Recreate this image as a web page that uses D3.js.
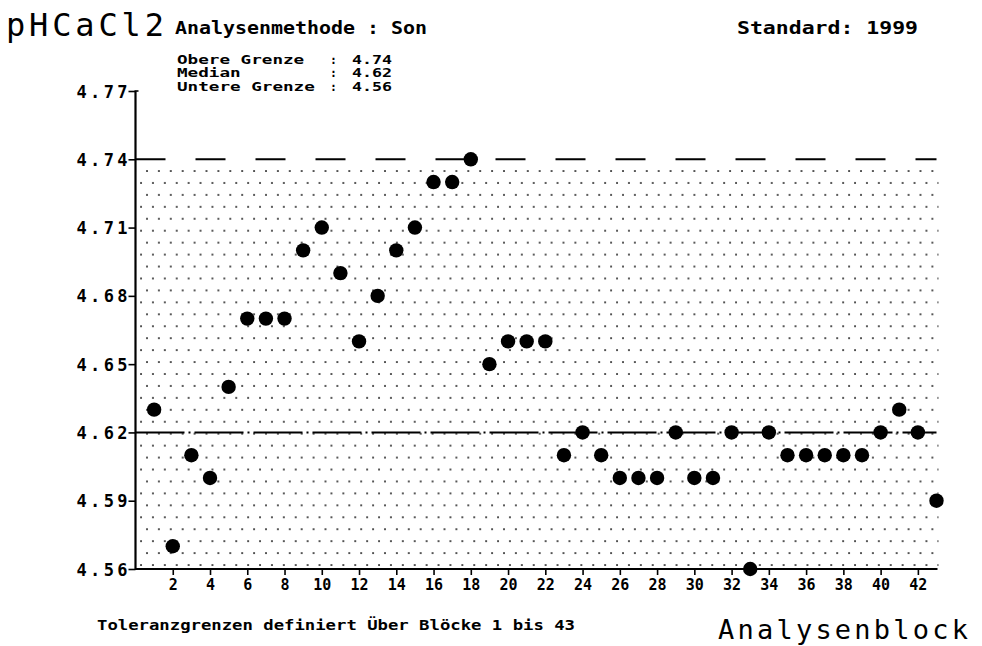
<!DOCTYPE html>
<html><head><meta charset="utf-8">
<script src="https://cdn.jsdelivr.net/npm/d3@7/dist/d3.min.js"></script>
<style>body{margin:0;background:#fff}svg{display:block}</style>
</head><body>
<svg id="c" width="982" height="646"></svg>
<script>
const blocks = d3.range(1, 44);
const values = [4.63,4.57,4.61,4.60,4.64,4.67,4.67,4.67,4.70,4.71,4.69,4.66,4.68,4.70,4.71,4.73,4.73,4.74,4.65,4.66,4.66,4.66,4.61,4.62,4.61,4.60,4.60,4.60,4.62,4.60,4.60,4.62,4.56,4.62,4.61,4.61,4.61,4.61,4.61,4.62,4.63,4.62,4.59];
const yTicks = [4.56,4.59,4.62,4.65,4.68,4.71,4.74,4.77];
const xTicks = d3.range(2, 43, 2);
const upperLimit = 4.74, median = 4.62, lowerLimit = 4.56;
const limitLabels = ["Obere Grenze","Median","Untere Grenze"];
const limitValues = ["4.74","4.62","4.56"];

const svg = d3.select("#c");
const mono = "'DejaVu Sans Mono', monospace";
const x = d3.scaleLinear().domain([0,43]).range([135.5,936.5]);
const y = d3.scaleLinear().domain([4.56,4.77]).range([569,91]);

// dotted tolerance area
const defs = svg.append("defs");
const pat = defs.append("pattern").attr("id","dots").attr("patternUnits","userSpaceOnUse")
  .attr("x",144).attr("y",165.03).attr("width",11.9).attr("height",23.88);
pat.append("rect").attr("x",2.2).attr("y",5.2).attr("width",1.6).attr("height",1.6).attr("fill","#000");
pat.append("rect").attr("x",8.15).attr("y",17.14).attr("width",1.6).attr("height",1.6).attr("fill","#000");
svg.append("rect").attr("x",x(0)+1).attr("y",y(upperLimit)+2)
  .attr("width",x(43)-x(0)+1).attr("height",y(lowerLimit)-y(upperLimit)-3)
  .attr("fill","url(#dots)");

// limit lines
svg.append("line").attr("x1",x(0)).attr("x2",x(43)).attr("y1",y(upperLimit)).attr("y2",y(upperLimit))
  .attr("stroke","#000").attr("stroke-width",2).attr("stroke-dasharray","30,30");
svg.append("line").attr("x1",x(0)).attr("x2",x(43)).attr("y1",y(median)).attr("y2",y(median))
  .attr("stroke","#000").attr("stroke-width",2).attr("stroke-dasharray","49,4,2,4");

// axes
const yAxis = d3.axisLeft(y).tickValues(yTicks).tickFormat(d3.format(".2f")).tickSize(7).tickPadding(1);
const gy = svg.append("g").attr("transform",`translate(${x(0)},0)`).call(yAxis);
gy.select(".domain").remove();
gy.selectAll("line").attr("stroke","#000").attr("stroke-width",1.6);
gy.selectAll("text").attr("font-family",mono).attr("font-size",17).attr("font-weight","bold").attr("dy","0.36em")
  .attr("textLength",51).attr("lengthAdjust","spacing");
svg.append("line").attr("x1",x(0)).attr("x2",x(0)).attr("y1",y(4.77)).attr("y2",y(4.56)+1)
  .attr("stroke","#000").attr("stroke-width",2.2);
svg.append("line").attr("x1",x(0)-1).attr("x2",x(0)+3).attr("y1",y(4.77)).attr("y2",y(4.77))
  .attr("stroke","#000").attr("stroke-width",1.6);

const xAxis = d3.axisBottom(x).tickValues(xTicks).tickFormat(d3.format("d")).tickSize(6).tickPadding(4);
const gx = svg.append("g").attr("transform",`translate(0,${y(4.56)})`).call(xAxis);
gx.select(".domain").remove();
gx.selectAll("line").attr("stroke","#000").attr("stroke-width",1.6);
gx.selectAll("text").attr("font-family",mono).attr("font-size",15).attr("font-weight","bold");
svg.append("line").attr("x1",x(0)).attr("x2",x(43)+1).attr("y1",y(4.56)).attr("y2",y(4.56))
  .attr("stroke","#000").attr("stroke-width",2.2);

// points
svg.append("g").selectAll("circle").data(values).join("circle")
  .attr("cx",(d,i)=>x(blocks[i])).attr("cy",d=>y(d)).attr("r",7.2).attr("fill","#000");

// texts
svg.append("text").attr("x",6).attr("y",36).attr("font-family",mono).attr("font-size",32)
  .attr("textLength",158).attr("lengthAdjust","spacing").text("pHCaCl2");
svg.append("text").attr("x",175).attr("y",34).attr("font-family",mono).attr("font-size",18).attr("font-weight","bold")
  .attr("textLength",252).attr("lengthAdjust","spacingAndGlyphs").text("Analysenmethode : Son");
svg.append("text").attr("x",737).attr("y",34).attr("font-family",mono).attr("font-size",18).attr("font-weight","bold")
  .attr("textLength",181).attr("lengthAdjust","spacingAndGlyphs").text("Standard:  1999");
const lb = svg.append("g").attr("font-family",mono).attr("font-size",11.5).attr("font-weight","bold");
limitLabels.forEach((t,i)=>{
  const by = 64 + i*13.3;
  lb.append("text").attr("x",177).attr("y",by).attr("textLength",t.length*10.6).attr("lengthAdjust","spacingAndGlyphs").text(t);
  lb.append("text").attr("x",330).attr("y",by).text(":");
  lb.append("text").attr("x",392).attr("y",by).attr("text-anchor","end")
    .attr("textLength",40).attr("lengthAdjust","spacingAndGlyphs").text(limitValues[i]);
});
svg.append("text").attr("x",97).attr("y",630).attr("font-family",mono).attr("font-size",14).attr("font-weight","bold")
  .attr("textLength",478).attr("lengthAdjust","spacingAndGlyphs").text("Toleranzgrenzen definiert Über Blöcke  1 bis 43");
svg.append("text").attr("x",718).attr("y",639).attr("font-family",mono).attr("font-size",27)
  .attr("textLength",250).attr("lengthAdjust","spacing").text("Analysenblock");
</script>
</body></html>
